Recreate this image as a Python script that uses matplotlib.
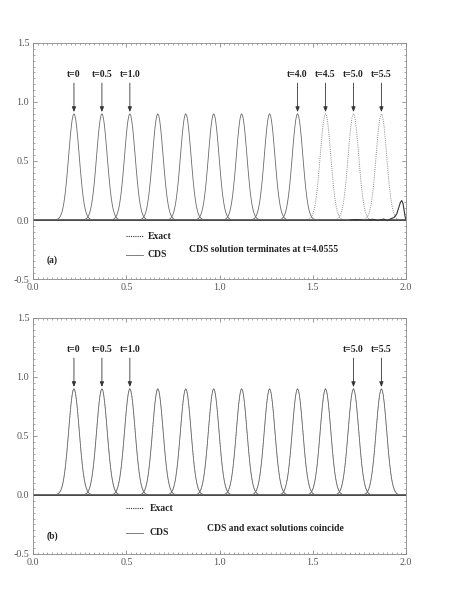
import matplotlib
matplotlib.use("Agg")
import matplotlib.pyplot as plt
from matplotlib.ticker import MultipleLocator

# ---------------- data ----------------
# pulse profile: offset from the peak centre and height (symmetric)
profile_dx = [0.000, 0.005, 0.010, 0.015, 0.020, 0.025, 0.030, 0.035, 0.040,
              0.045, 0.050, 0.055, 0.060, 0.065, 0.070, 0.075, 0.080, 0.085,
              0.090, 0.100, 0.110, 0.120, 0.140]
profile_y = [0.900, 0.886, 0.845, 0.782, 0.701, 0.609, 0.513, 0.419, 0.331,
             0.254, 0.189, 0.136, 0.095, 0.064, 0.042, 0.027, 0.0165, 0.0098,
             0.0057, 0.0017, 0.0005, 0.0001, 0.0]

times = [0.0, 0.5, 1.0, 1.5, 2.0, 2.5, 3.0, 3.5, 4.0, 4.5, 5.0, 5.5]
centers = [0.218, 0.368, 0.518, 0.668, 0.818, 0.968, 1.118, 1.268, 1.418,
           1.568, 1.718, 1.868]

# panel (a): CDS drawn up to t=4.0, exact shown dotted afterwards
cds_a_times = [0.0, 0.5, 1.0, 1.5, 2.0, 2.5, 3.0, 3.5, 4.0]
exact_a_times = [4.5, 5.0, 5.5]
# remnant of the CDS solution at termination (t=4.0555)
cds_end_x = [1.70, 1.74, 1.78, 1.82, 1.85, 1.88, 1.90, 1.92, 1.935, 1.95,
             1.96, 1.97, 1.977, 1.984, 1.990, 1.995, 2.0]
cds_end_y = [0.0, 0.004, -0.004, 0.006, -0.005, 0.008, -0.006, 0.012, 0.02,
             0.05, 0.10, 0.15, 0.165, 0.14, 0.08, 0.03, 0.0]

label_a = ["t=0", "t=0.5", "t=1.0", "t=4.0", "t=4.5", "t=5.0", "t=5.5"]
label_a_times = [0.0, 0.5, 1.0, 4.0, 4.5, 5.0, 5.5]
label_b = ["t=0", "t=0.5", "t=1.0", "t=5.0", "t=5.5"]
label_b_times = [0.0, 0.5, 1.0, 5.0, 5.5]

xticks = [0.0, 0.5, 1.0, 1.5, 2.0]
yticks = [-0.5, 0.0, 0.5, 1.0, 1.5]

# ---------------- drawing ----------------
serif = ["Liberation Serif", "DejaVu Serif"]
plt.rcParams["font.family"] = serif
LC = "#6a6a6a"
FS = 6.9


def pulse(c):
    xs = [0.0] + [c - d for d in profile_dx[::-1]] + [c + d for d in profile_dx[1:]] + [2.0]
    ys = [0.0] + profile_y[::-1] + profile_y[1:] + [0.0]
    pts = [(x, y) for x, y in zip(xs, ys) if 0.0 <= x <= 2.0]
    pts.sort()
    return [p[0] for p in pts], [p[1] for p in pts]


def style_axes(ax):
    ax.set_xlim(0.0, 2.0)
    ax.set_ylim(-0.5, 1.5)
    ax.set_xticks(xticks)
    ax.set_yticks(yticks)
    ax.set_xticklabels([f"{v:.1f}" for v in xticks])
    ax.set_yticklabels([f"{v:.1f}" for v in yticks])
    ax.xaxis.set_minor_locator(MultipleLocator(0.025))
    ax.yaxis.set_minor_locator(MultipleLocator(0.05))
    ax.tick_params(which="both", direction="in", top=True, right=True,
                   color="#888888", labelcolor="#555555", labelsize=7.2, pad=3)
    ax.tick_params(which="major", length=3, width=0.6)
    ax.tick_params(which="minor", length=1.5, width=0.5)
    for s in ax.spines.values():
        s.set_color("#888888")
        s.set_linewidth(0.6)


def label_peaks(ax, labels, ltimes):
    for lab, t in zip(labels, ltimes):
        c = centers[times.index(t)]
        ax.annotate("", xy=(c, 0.915), xytext=(c, 1.16),
                    arrowprops=dict(arrowstyle="-|>,head_length=0.3,head_width=0.12",
                                    color="#333333", lw=0.6, shrinkA=0, shrinkB=0))
        ax.text(c, 1.23, lab, ha="center", va="center", fontsize=FS,
                fontweight="bold", color="#222222")


fig = plt.figure(figsize=(4.61, 5.93), dpi=100)
axa = fig.add_axes([0.0723, 0.5295, 0.8084, 0.398])
axb = fig.add_axes([0.0723, 0.0658, 0.8084, 0.398])

# panel (a)
for t in exact_a_times:
    x, y = pulse(centers[times.index(t)])
    axa.plot(x, y, color="#8a8a8a", lw=0.7, ls=(0, (1, 1.2)))
for t in cds_a_times:
    x, y = pulse(centers[times.index(t)])
    axa.plot(x, y, color=LC, lw=0.6)
axa.plot(cds_end_x, cds_end_y, color="#333333", lw=0.8)
axa.plot([0.0, 2.0], [0.0, 0.0], color="#444444", lw=0.6)
style_axes(axa)
label_peaks(axa, label_a, label_a_times)
axa.plot([0.50, 0.59], [-0.138, -0.138], color="#333333", lw=0.8, ls=(0, (1, 1)))
axa.text(0.615, -0.138, "Exact", fontsize=FS, fontweight="bold", va="center", color="#222222")
axa.plot([0.50, 0.59], [-0.295, -0.295], color=LC, lw=0.6)
axa.text(0.615, -0.295, "CDS", fontsize=FS, fontweight="bold", va="center", color="#222222")
axa.text(0.10, -0.34, "(a)", fontsize=FS, fontweight="bold", va="center", ha="center", color="#222222")
axa.text(0.835, -0.25, "CDS solution terminates at t=4.0555", fontsize=FS,
         fontweight="bold", va="center", color="#222222")

# panel (b)
for t in times:
    x, y = pulse(centers[times.index(t)])
    axb.plot(x, y, color="#8a8a8a", lw=0.5, ls=(0, (1, 1.2)))
for t in times:
    x, y = pulse(centers[times.index(t)])
    axb.plot(x, y, color=LC, lw=0.6)
axb.plot([0.0, 2.0], [0.0, 0.0], color="#444444", lw=0.6)
style_axes(axb)
label_peaks(axb, label_b, label_b_times)
axb.plot([0.50, 0.59], [-0.113, -0.113], color="#333333", lw=0.8, ls=(0, (1, 1)))
axb.text(0.625, -0.113, "Exact", fontsize=FS, fontweight="bold", va="center", color="#222222")
axb.plot([0.50, 0.59], [-0.32, -0.32], color=LC, lw=0.6)
axb.text(0.625, -0.32, "CDS", fontsize=FS, fontweight="bold", va="center", color="#222222")
axb.text(0.10, -0.353, "(b)", fontsize=FS, fontweight="bold", va="center", ha="center", color="#222222")
axb.text(0.93, -0.28, "CDS and exact solutions coincide", fontsize=FS,
         fontweight="bold", va="center", color="#222222")

fig.savefig("out.png", dpi=100)
